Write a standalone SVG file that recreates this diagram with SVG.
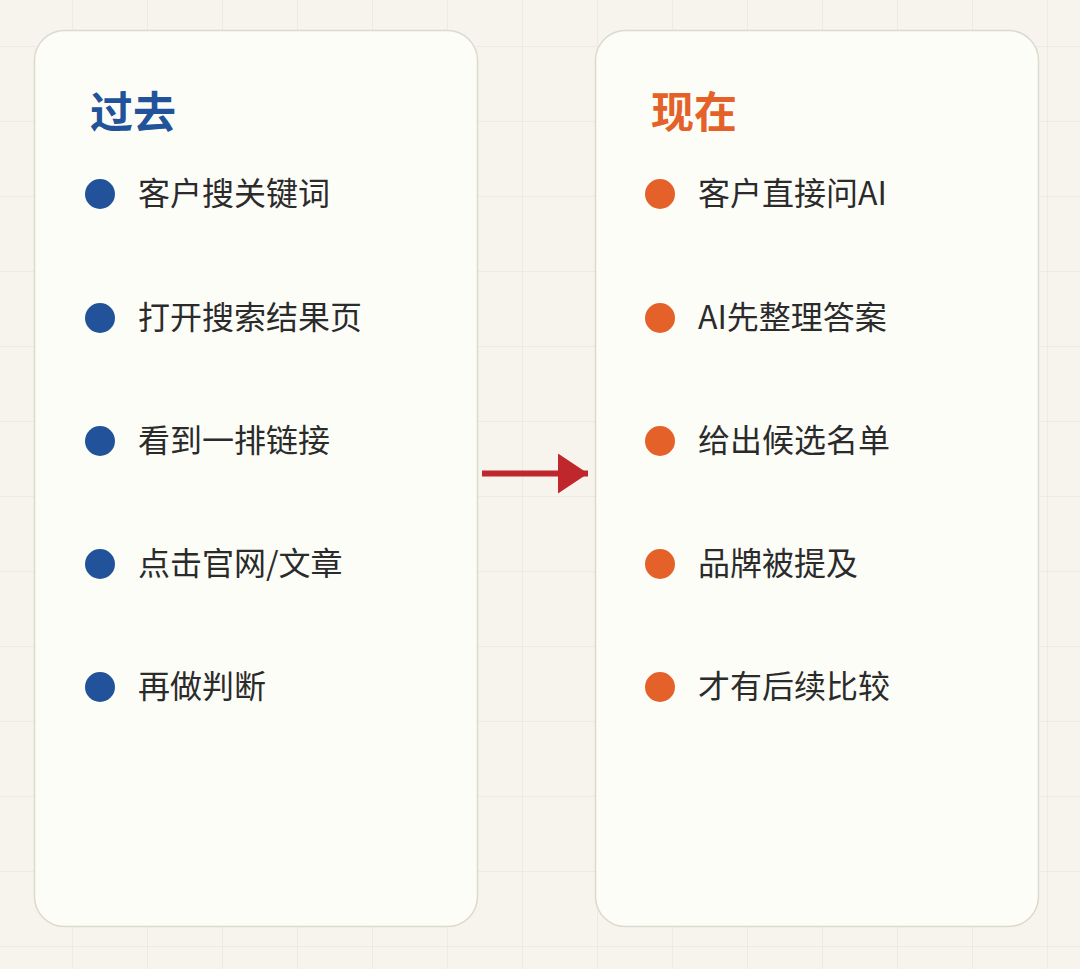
<svg xmlns="http://www.w3.org/2000/svg" width="1080" height="969" viewBox="0 0 1080 969">
  <defs>
    <pattern id="grid" x="72" y="46" width="75" height="75" patternUnits="userSpaceOnUse">
      <path d="M0 0 V75 M0 0 H75" fill="none" stroke="#ede8dd" stroke-width="1.5"/>
    </pattern>
    <marker id="arrowhead" markerWidth="30" markerHeight="40" refX="30" refY="20" orient="auto" markerUnits="userSpaceOnUse">
      <path d="M0 0 L30 20 L0 40 Z" fill="#c0272d"/>
    </marker>
    <style>
      .card { fill: #fdfdf8; stroke: #dcd9cf; stroke-width: 1.5; }
      .title { font-family: "Noto Sans CJK SC", "Noto Sans", sans-serif; font-size: 43px; font-weight: 700; }
      .item { font-family: "Noto Sans CJK SC", "Noto Sans", sans-serif; font-size: 32px; fill: #2b2b2b; }
      .blue { fill: #22539a; }
      .orange { fill: #e4622a; }
    </style>
  </defs>
  <rect width="1080" height="969" fill="#f7f4ed"/>
  <rect width="1080" height="969" fill="url(#grid)"/>

  <g id="past">
    <rect class="card" x="34.5" y="30.5" width="443" height="896" rx="30"/>
    <text class="title blue" x="90" y="128">过去</text>
    <circle class="blue" cx="100" cy="194" r="15"/>
    <text class="item" x="138" y="205">客户搜关键词</text>
    <circle class="blue" cx="100" cy="318" r="15"/>
    <text class="item" x="138" y="329">打开搜索结果页</text>
    <circle class="blue" cx="100" cy="441" r="15"/>
    <text class="item" x="138" y="452">看到一排链接</text>
    <circle class="blue" cx="100" cy="564" r="15"/>
    <text class="item" x="138" y="575">点击官网/文章</text>
    <circle class="blue" cx="100" cy="687" r="15"/>
    <text class="item" x="138" y="698">再做判断</text>
  </g>

  <g id="now">
    <rect class="card" x="595.5" y="30.5" width="443" height="896" rx="30"/>
    <text class="title orange" x="651" y="128">现在</text>
    <circle class="orange" cx="660" cy="194" r="15"/>
    <text class="item" x="698" y="205">客户直接问AI</text>
    <circle class="orange" cx="660" cy="318" r="15"/>
    <text class="item" x="698" y="329">AI先整理答案</text>
    <circle class="orange" cx="660" cy="441" r="15"/>
    <text class="item" x="698" y="452">给出候选名单</text>
    <circle class="orange" cx="660" cy="564" r="15"/>
    <text class="item" x="698" y="575">品牌被提及</text>
    <circle class="orange" cx="660" cy="687" r="15"/>
    <text class="item" x="698" y="698">才有后续比较</text>
  </g>

  <g id="connectors">
    <line x1="482" y1="473.5" x2="588" y2="473.5" stroke="#c0272d" stroke-width="6" marker-end="url(#arrowhead)"/>
  </g>
</svg>
